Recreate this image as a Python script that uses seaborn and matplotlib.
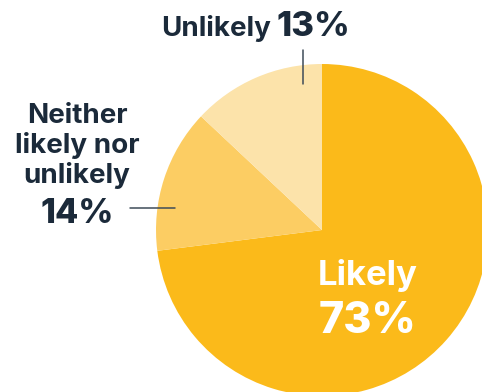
import matplotlib
matplotlib.use("Agg")
import matplotlib.pyplot as plt
import seaborn as sns

# data
labels = ["Likely", "Neither likely nor unlikely", "Unlikely"]
values = [73, 14, 13]
colors = ["#FBBA1A", "#FCCD63", "#FCE3AA"]

sns.set_theme(style="white")
plt.rcParams['font.family'] = ['Inter', 'DejaVu Sans']

W, H = 482, 392
fig = plt.figure(figsize=(W / 100, H / 100), dpi=100)
ax = fig.add_axes([0, 0, 1, 1])

cx, cy, r = 322, H - 230, 166
ax.pie(values, colors=colors, startangle=90, counterclock=False,
       center=(cx, cy), radius=r, wedgeprops=dict(linewidth=0))
ax.set_xlim(0, W)
ax.set_ylim(0, H)
ax.set_aspect('equal')
ax.axis('off')

navy = "#1B2A3A"
line_c = "#3E4B58"

def y(px):
    return H - px

# Unlikely label (top)
ax.text(271, y(36), "Unlikely", ha='right', va='baseline', fontsize=20,
        fontweight='bold', color=navy)
ax.text(277, y(36), f"{values[2]}%", ha='left', va='baseline', fontsize=25,
        fontweight='heavy', color=navy)
ax.plot([303, 303], [y(50), y(84)], color=line_c, lw=1.1)

# Neither label (left)
for txt, base in [("Neither", 123), ("likely nor", 153), ("unlikely", 183)]:
    ax.text(77, y(base), txt, ha='center', va='baseline', fontsize=20,
            fontweight='bold', color=navy)
ax.text(77, y(223), f"{values[1]}%", ha='center', va='baseline', fontsize=24.5,
        fontweight='heavy', color=navy)
ax.plot([130, 175], [y(208), y(208)], color=line_c, lw=1.1)

# Likely label (inside)
ax.text(368, y(285), labels[0], ha='center', va='baseline', fontsize=25,
        fontweight='bold', color='white')
ax.text(368, y(333), f"{values[0]}%", ha='center', va='baseline', fontsize=31,
        fontweight='heavy', color='white')

fig.savefig("out.png", dpi=100)
